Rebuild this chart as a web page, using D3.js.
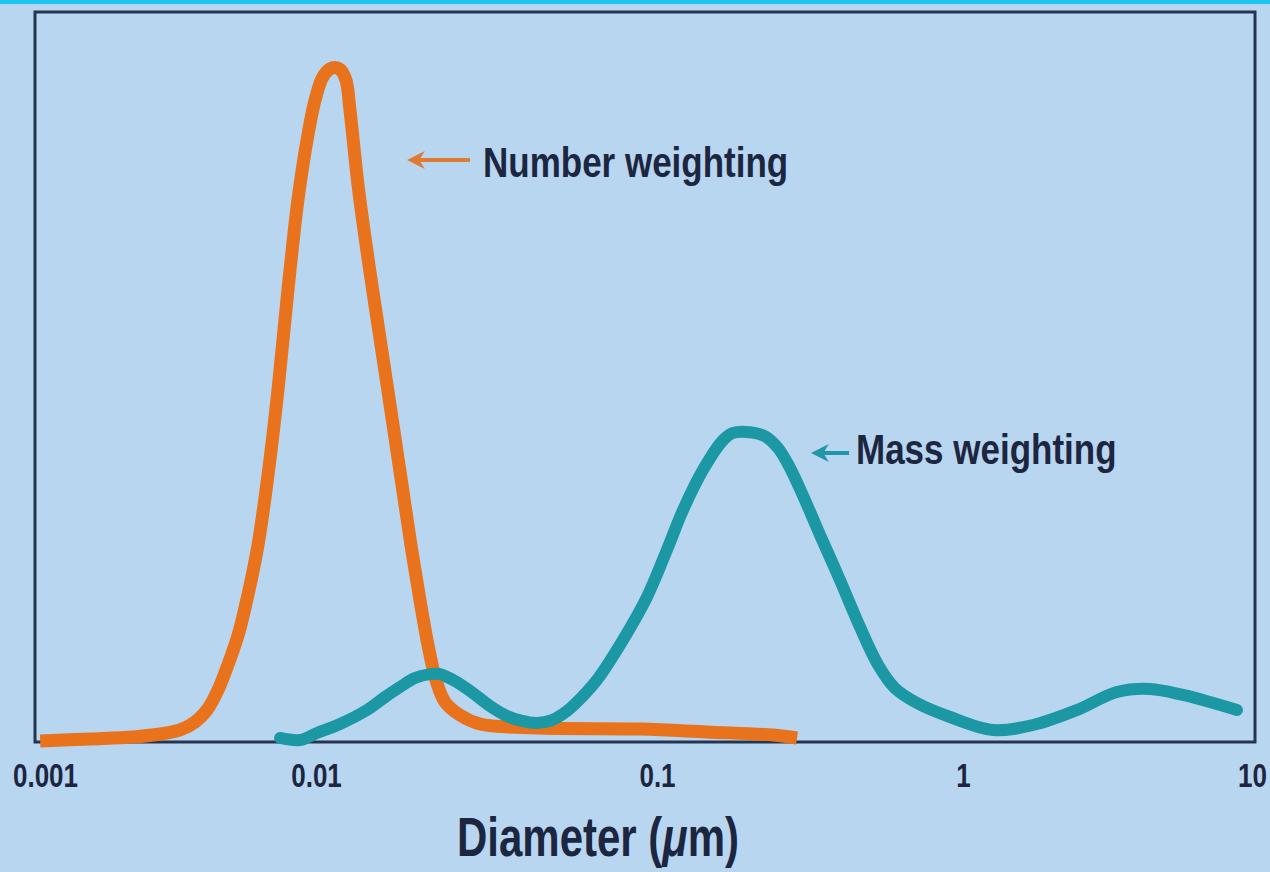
<!DOCTYPE html>
<html>
<head>
<meta charset="utf-8">
<script src="https://cdn.jsdelivr.net/npm/d3@7"></script>
<style>
  html, body { margin: 0; padding: 0; background: #b9d6f1; }
  svg { display: block; }
  text { font-family: "Liberation Sans", Arial, sans-serif; font-weight: bold; fill: #1c2640; }
</style>
</head>
<body>
<svg width="1270" height="872"></svg>
<script>
// diameters in µm, weighting in arbitrary units (peak of number curve = 100)
var numberDiam = [0.00096, 0.00147, 0.00211, 0.00266, 0.00315, 0.00358, 0.00396, 0.00435, 0.00473, 0.00516,
  0.00561, 0.00611, 0.00665, 0.00724, 0.00788, 0.00858, 0.00927, 0.00992, 0.01048, 0.01114,
  0.01176, 0.01224, 0.01258, 0.01328, 0.01402, 0.01489, 0.01583, 0.01682, 0.01788, 0.01899,
  0.02018, 0.02131, 0.02248, 0.02389, 0.02644, 0.03027, 0.04539, 0.0892, 0.1457, 0.2394,
  0.2868];
var numberVal = [0.15, 0.45, 0.74, 1.19, 1.79, 2.98, 4.76, 7.74, 11.46, 15.9,
  21.9, 29.3, 39.7, 52.4, 67.3, 80.7, 89.6, 95.5, 99.0, 100.3,
  100.1, 98.5, 94.0, 82.9, 74.0, 65.0, 56.1, 47.2, 38.2, 29.3,
  21.1, 14.4, 9.23, 5.95, 4.0, 2.68, 2.08, 1.93, 1.49, 1.04,
  0.6];

var massDiam = [0.00737, 0.00873, 0.01007, 0.01176, 0.01411, 0.01594, 0.01764, 0.01951, 0.0216, 0.0231,
  0.02556, 0.02887, 0.03237, 0.03631, 0.04019, 0.04446, 0.0492, 0.05446, 0.06026, 0.06668,
  0.0795, 0.0935, 0.1078, 0.1216, 0.1414, 0.1643, 0.1772, 0.2013, 0.2254, 0.2485,
  0.272, 0.3045, 0.341, 0.3963, 0.4607, 0.5276, 0.5995, 0.7073, 0.907, 1.27,
  1.747, 2.48, 3.411, 4.436, 5.77, 7.155, 8.87];
var massVal = [0.6, 0.3, 1.34, 2.68, 4.76, 6.7, 8.18, 9.52, 10.1, 10.1,
  9.08, 7.29, 5.36, 3.87, 3.13, 2.83, 3.27, 4.61, 6.7, 9.23,
  15.2, 21.6, 28.6, 34.5, 40.5, 44.9, 46.0, 46.1, 45.5, 43.75,
  40.8, 36.0, 30.8, 24.1, 17.1, 11.5, 8.0, 5.8, 3.72, 1.79,
  2.53, 4.76, 7.44, 7.89, 7.0, 5.95, 4.76];

var tickVals = [0.001, 0.01, 0.1, 1, 10];
var tickLabels = ["0.001", "0.01", "0.1", "1", "10"];

var svg = d3.select("svg");

// cyan strip on top
svg.append("rect").attr("x", 0).attr("y", 0).attr("width", 1270).attr("height", 4).attr("fill", "#1cc4ef");

// the drawing is not evenly spaced per decade, so a piecewise log scale
var x = d3.scaleLog()
    .domain(tickVals)
    .range([45, 316, 657, 963, 1252]);
var y = d3.scaleLinear().domain([0, 100]).range([742, 70]);

// frame
svg.append("rect")
    .attr("x", 35).attr("y", 12)
    .attr("width", 1220).attr("height", 730)
    .attr("fill", "none")
    .attr("stroke", "#25344f")
    .attr("stroke-width", 3);

var line = d3.line()
    .curve(d3.curveCatmullRom.alpha(0.5))
    .x(function(d) { return x(d[0]); })
    .y(function(d) { return y(d[1]); });

var number = numberDiam.map(function(d, i) { return [d, numberVal[i]]; });
var mass = massDiam.map(function(d, i) { return [d, massVal[i]]; });

svg.append("path")
    .attr("d", line(number))
    .attr("fill", "none")
    .attr("stroke", "#e8731c")
    .attr("stroke-width", 13)
    .attr("stroke-linecap", "butt")
    .attr("stroke-linejoin", "round");

svg.append("path")
    .attr("d", line(mass))
    .attr("fill", "none")
    .attr("stroke", "#1c98a4")
    .attr("stroke-width", 12)
    .attr("stroke-linecap", "round")
    .attr("stroke-linejoin", "round");

// x axis labels
var axis = svg.append("g")
    .attr("transform", "translate(0,742)")
    .call(d3.axisBottom(x).tickValues(tickVals).tickSize(0)
      .tickFormat(function(d, i) { return tickLabels[i]; }));
axis.select(".domain").remove();
axis.selectAll("text")
    .attr("dy", null)
    .attr("y", 35)
    .attr("transform", "scale(1,1.3)")
    .style("font-size", "26px")
    .style("font-family", "\"Liberation Sans\", Arial, sans-serif")
    .attr("fill", "#1c2640");

// axis title
var title = svg.append("text")
    .attr("transform", "translate(598,856) scale(1,1.3)")
    .attr("text-anchor", "middle")
    .style("font-size", "42px");
title.append("tspan").text("Diameter (");
title.append("tspan").style("font-style", "italic").text("\u03bc");
title.append("tspan").text("m)");

// labels with arrows
var defs = svg.append("defs");
function marker(id, color) {
  defs.append("marker")
      .attr("id", id)
      .attr("viewBox", "0 0 10 10")
      .attr("refX", 6).attr("refY", 5)
      .attr("markerWidth", 4.5).attr("markerHeight", 4.5)
      .attr("orient", "auto")
    .append("path")
      .attr("d", "M0,0 L10,5 L0,10 L3,5 Z")
      .attr("fill", color);
}
marker("headOrange", "#e07a34");
marker("headTeal", "#2196a6");

svg.append("line")
    .attr("x1", 470).attr("y1", 160).attr("x2", 414).attr("y2", 160)
    .attr("stroke", "#e07a34").attr("stroke-width", 4)
    .attr("marker-end", "url(#headOrange)");
svg.append("text")
    .attr("transform", "translate(483,177) scale(1,1.22)")
    .style("font-size", "35px")
    .text("Number weighting");

svg.append("line")
    .attr("x1", 849).attr("y1", 453).attr("x2", 818).attr("y2", 453)
    .attr("stroke", "#2196a6").attr("stroke-width", 4)
    .attr("marker-end", "url(#headTeal)");
svg.append("text")
    .attr("transform", "translate(856,464) scale(1,1.22)")
    .style("font-size", "35px")
    .text("Mass weighting");
</script>
</body>
</html>
